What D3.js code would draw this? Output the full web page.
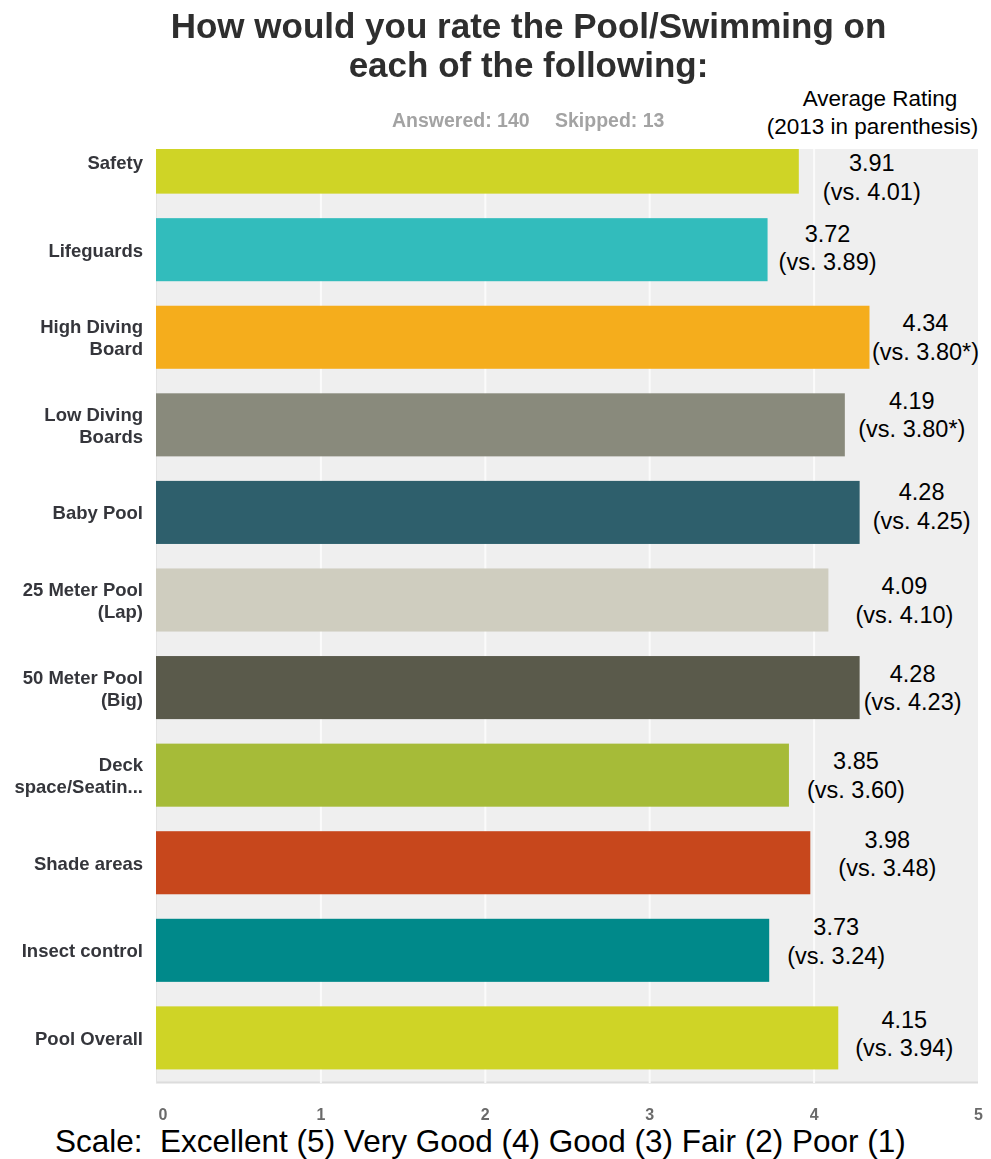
<!DOCTYPE html>
<html>
<head>
<meta charset="utf-8">
<script src="https://cdn.jsdelivr.net/npm/d3@7"></script>
<style>
  html, body { margin: 0; padding: 0; background: #ffffff; }
  svg { display: block; }
</style>
</head>
<body>
<svg id="chart" width="991" height="1159"></svg>
<script>
// Survey items, one bar each (top to bottom)
const categories = [
  "Safety", "Lifeguards", "High Diving Board", "Low Diving Boards", "Baby Pool",
  "25 Meter Pool (Lap)", "50 Meter Pool (Big)", "Deck space/Seatin...",
  "Shade areas", "Insect control", "Pool Overall"
];
// Wrapped label text as shown beside each bar
const categoryLines = [
  ["Safety"], ["Lifeguards"], ["High Diving", "Board"], ["Low Diving", "Boards"],
  ["Baby Pool"], ["25 Meter Pool", "(Lap)"], ["50 Meter Pool", "(Big)"],
  ["Deck", "space/Seatin..."], ["Shade areas"], ["Insect control"], ["Pool Overall"]
];
// Average rating this year
const averageRating = [3.91, 3.72, 4.34, 4.19, 4.28, 4.09, 4.28, 3.85, 3.98, 3.73, 4.15];
// Average rating in 2013 (asterisk marks the combined diving-board figure)
const rating2013 = [4.01, 3.89, 3.80, 3.80, 4.25, 4.10, 4.23, 3.60, 3.48, 3.24, 3.94];
const rating2013Starred = [false, false, true, true, false, false, false, false, false, false, false];
const barColors = [
  "#cfd426", "#33bcbc", "#f5ad1f", "#898a7b", "#2d5f6c", "#cfcdbf",
  "#5a5a4b", "#a6bb38", "#c7461c", "#00898a", "#cfd426"
];
const tickValues = [0, 1, 2, 3, 4, 5];
const scaleNote = "Scale:  Excellent (5) Very Good (4) Good (3) Fair (2) Poor (1)";

// Hand placement of the rating annotations: [dx from bar end, dy from bar centre]
const annotationNudge = [
  [73, 9], [60, -8], [56, -6], [67, -16], [62, -12], [76, -6],
  [53, -6], [67, -6], [77, -15], [67, -15], [66, -10]
];

const svg = d3.select("#chart");
const FONT = "'Liberation Sans', Arial, Helvetica, sans-serif";

// Soft focus used for the survey-tool part of the graphic
const defs = svg.append("defs");
defs.append("filter").attr("id", "soft")
  .attr("x", "-5%").attr("y", "-5%").attr("width", "110%").attr("height", "110%")
  .append("feGaussianBlur").attr("stdDeviation", 0.6);

const plot = { left: 156, right: 978, top: 149, bottom: 1083 };

const x = d3.scaleLinear().domain([0, 5]).range([plot.left, plot.right]);
const y = d3.scaleBand().domain(categories)
  .range([117, plot.bottom])
  .paddingInner(0.28)
  .paddingOuter(0.155);

defs.append("clipPath").attr("id", "plotClip")
  .append("rect")
  .attr("x", plot.left).attr("y", plot.top)
  .attr("width", plot.right - plot.left).attr("height", plot.bottom - plot.top);

// Title
const title = svg.append("g").attr("filter", "url(#soft)");
title.selectAll("text")
  .data(["How would you rate the Pool/Swimming on", "each of the following:"])
  .join("text")
  .attr("x", 528.5)
  .attr("y", (d, i) => 38 + i * 39)
  .attr("text-anchor", "middle")
  .attr("font-family", FONT)
  .attr("font-weight", "bold")
  .attr("font-size", 35)
  .attr("fill", "#2e2e2e")
  .text(d => d);

// Response counts
const counts = svg.append("g").attr("filter", "url(#soft)")
  .attr("font-family", FONT).attr("font-weight", "bold")
  .attr("font-size", 19.5).attr("fill", "#a3a3a3");
counts.append("text").attr("x", 392).attr("y", 127).text("Answered: 140");
counts.append("text").attr("x", 555).attr("y", 127).text("Skipped: 13");

// Column heading for the annotations
const heading = svg.append("g").attr("font-family", FONT).attr("font-size", 22.5)
  .attr("fill", "#000").attr("text-anchor", "middle");
heading.append("text").attr("x", 880).attr("y", 106).text("Average Rating");
heading.append("text").attr("x", 872.5).attr("y", 134).text("(2013 in parenthesis)");

// Plot background
const body = svg.append("g").attr("filter", "url(#soft)");
body.append("rect")
  .attr("x", plot.left).attr("y", plot.top)
  .attr("width", plot.right - plot.left).attr("height", plot.bottom - plot.top)
  .attr("fill", "#efefef");
body.append("line")
  .attr("x1", plot.left).attr("x2", plot.right)
  .attr("y1", plot.bottom - 0.5).attr("y2", plot.bottom - 0.5)
  .attr("stroke", "#dcdcdc").attr("stroke-width", 2);
body.append("line")
  .attr("x1", plot.left + 0.5).attr("x2", plot.left + 0.5)
  .attr("y1", plot.top).attr("y2", plot.bottom)
  .attr("stroke", "#e3e3e3").attr("stroke-width", 1);

// Vertical gridlines
const grid = body.append("g")
  .attr("transform", `translate(0,${plot.bottom})`)
  .call(d3.axisBottom(x)
    .tickValues(tickValues.filter(v => v > 0 && v < 5))
    .tickSize(-(plot.bottom - plot.top))
    .tickFormat(""));
grid.select(".domain").remove();
grid.selectAll(".tick line").attr("stroke", "#fbfbfb").attr("stroke-width", 2);

// Bars
body.append("g").attr("clip-path", "url(#plotClip)")
  .selectAll("rect")
  .data(categories)
  .join("rect")
  .attr("x", x(0))
  .attr("y", d => y(d))
  .attr("width", (d, i) => x(averageRating[i]) - x(0))
  .attr("height", y.bandwidth())
  .attr("fill", (d, i) => barColors[i]);

// Category labels
const catG = svg.append("g").attr("filter", "url(#soft)")
  .attr("font-family", FONT).attr("font-weight", "bold")
  .attr("font-size", 18.5).attr("fill", "#34363b").attr("text-anchor", "end");
categories.forEach((c, i) => {
  const lines = categoryLines[i];
  const cy = y(c) + y.bandwidth() / 2;
  const first = cy + 7 - (lines.length - 1) * 11;
  const t = catG.append("text").attr("x", 143).attr("y", first);
  lines.forEach((ln, k) => {
    t.append("tspan").attr("x", 143).attr("dy", k === 0 ? 0 : 22).text(ln);
  });
});

// Value axis labels
const axisG = svg.append("g").attr("filter", "url(#soft)")
  .attr("transform", "translate(0,1104)")
  .call(d3.axisBottom(x).tickValues(tickValues).tickSize(0).tickPadding(0).tickFormat(d3.format("d")));
axisG.select(".domain").remove();
axisG.selectAll(".tick text")
  .attr("font-family", FONT).attr("font-weight", "bold").attr("font-size", 16)
  .attr("fill", "#6b6b6b").attr("dy", "1em")
  .attr("text-anchor", d => d === 0 ? "start" : "middle")
  .attr("dx", d => d === 0 ? 2 : 0);

// Rating annotations
const ann = svg.append("g").attr("font-family", FONT).attr("font-size", 23.5)
  .attr("fill", "#000").attr("text-anchor", "middle");
categories.forEach((c, i) => {
  const cx = x(averageRating[i]) + annotationNudge[i][0];
  const base = y(c) + y.bandwidth() / 2 + annotationNudge[i][1];
  ann.append("text").attr("x", cx).attr("y", base).text(averageRating[i].toFixed(2));
  ann.append("text").attr("x", cx).attr("y", base + 28.5)
    .text(`(vs. ${rating2013[i].toFixed(2)}${rating2013Starred[i] ? "*" : ""})`);
});

// Rating scale note
svg.append("text")
  .attr("x", 55).attr("y", 1152)
  .attr("font-family", FONT).attr("font-size", 31.5).attr("fill", "#000")
  .attr("xml:space", "preserve").style("white-space", "pre")
  .text(scaleNote);
</script>
</body>
</html>
